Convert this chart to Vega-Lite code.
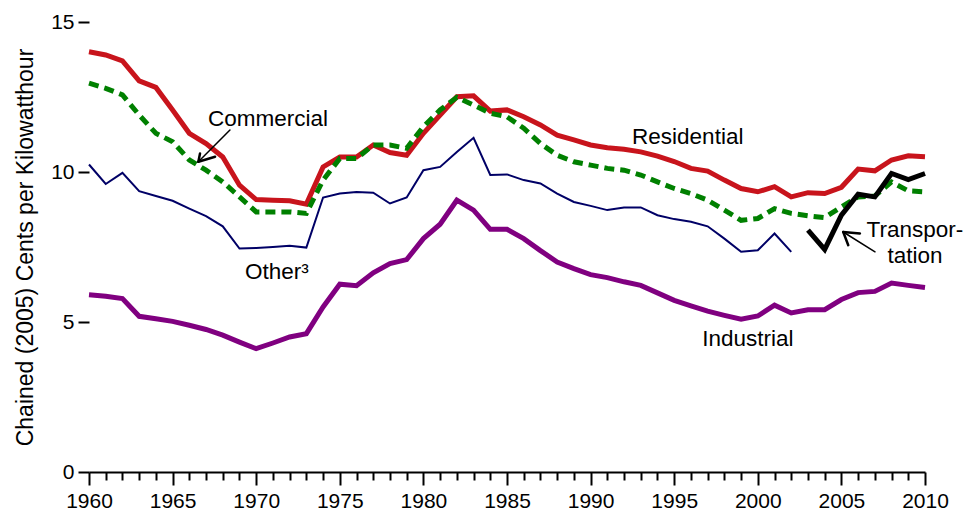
{
  "$schema": "https://vega.github.io/schema/vega-lite/v6.json",
  "width": 836,
  "height": 450,
  "autosize": {"type": "none"},
  "padding": {"left": 89, "top": 22, "right": 41, "bottom": 40},
  "background": "white",
  "config": {
    "view": {"stroke": null},
    "font": "Liberation Sans",
    "axis": {"labelFont": "Liberation Sans", "titleFont": "Liberation Sans", "labelColor": "black", "titleColor": "black", "grid": false}
  },
  "datasets": {
    "prices": [
      {"year": 1960, "Residential": 14.01, "Commercial": 12.96, "Other": 10.25, "Industrial": 5.91, "Transportation": null},
      {"year": 1961, "Residential": 13.9, "Commercial": 12.79, "Other": 9.6, "Industrial": 5.86, "Transportation": null},
      {"year": 1962, "Residential": 13.7, "Commercial": 12.57, "Other": 9.97, "Industrial": 5.78, "Transportation": null},
      {"year": 1963, "Residential": 13.04, "Commercial": 11.9, "Other": 9.36, "Industrial": 5.19, "Transportation": null},
      {"year": 1964, "Residential": 12.82, "Commercial": 11.29, "Other": 9.2, "Industrial": 5.11, "Transportation": null},
      {"year": 1965, "Residential": 12.07, "Commercial": 11.01, "Other": 9.04, "Industrial": 5.02, "Transportation": null},
      {"year": 1966, "Residential": 11.29, "Commercial": 10.4, "Other": 8.78, "Industrial": 4.89, "Transportation": null},
      {"year": 1967, "Residential": 10.95, "Commercial": 10.06, "Other": 8.53, "Industrial": 4.75, "Transportation": null},
      {"year": 1968, "Residential": 10.5, "Commercial": 9.67, "Other": 8.19, "Industrial": 4.56, "Transportation": null},
      {"year": 1969, "Residential": 9.56, "Commercial": 9.17, "Other": 7.45, "Industrial": 4.33, "Transportation": null},
      {"year": 1970, "Residential": 9.08, "Commercial": 8.67, "Other": 7.47, "Industrial": 4.11, "Transportation": null},
      {"year": 1971, "Residential": 9.06, "Commercial": 8.67, "Other": 7.5, "Industrial": 4.3, "Transportation": null},
      {"year": 1972, "Residential": 9.04, "Commercial": 8.67, "Other": 7.54, "Industrial": 4.5, "Transportation": null},
      {"year": 1973, "Residential": 8.93, "Commercial": 8.62, "Other": 7.48, "Industrial": 4.61, "Transportation": null},
      {"year": 1974, "Residential": 10.17, "Commercial": 9.73, "Other": 9.15, "Industrial": 5.5, "Transportation": null},
      {"year": 1975, "Residential": 10.5, "Commercial": 10.45, "Other": 9.28, "Industrial": 6.26, "Transportation": null},
      {"year": 1976, "Residential": 10.5, "Commercial": 10.45, "Other": 9.33, "Industrial": 6.21, "Transportation": null},
      {"year": 1977, "Residential": 10.9, "Commercial": 10.9, "Other": 9.31, "Industrial": 6.64, "Transportation": null},
      {"year": 1978, "Residential": 10.65, "Commercial": 10.9, "Other": 8.95, "Industrial": 6.95, "Transportation": null},
      {"year": 1979, "Residential": 10.56, "Commercial": 10.79, "Other": 9.15, "Industrial": 7.08, "Transportation": null},
      {"year": 1980, "Residential": 11.29, "Commercial": 11.51, "Other": 10.06, "Industrial": 7.78, "Transportation": null},
      {"year": 1981, "Residential": 11.9, "Commercial": 12.07, "Other": 10.17, "Industrial": 8.26, "Transportation": null},
      {"year": 1982, "Residential": 12.51, "Commercial": 12.49, "Other": 10.67, "Industrial": 9.06, "Transportation": null},
      {"year": 1983, "Residential": 12.54, "Commercial": 12.23, "Other": 11.14, "Industrial": 8.73, "Transportation": null},
      {"year": 1984, "Residential": 12.03, "Commercial": 11.96, "Other": 9.9, "Industrial": 8.09, "Transportation": null},
      {"year": 1985, "Residential": 12.07, "Commercial": 11.84, "Other": 9.92, "Industrial": 8.09, "Transportation": null},
      {"year": 1986, "Residential": 11.84, "Commercial": 11.46, "Other": 9.73, "Industrial": 7.78, "Transportation": null},
      {"year": 1987, "Residential": 11.57, "Commercial": 10.95, "Other": 9.62, "Industrial": 7.38, "Transportation": null},
      {"year": 1988, "Residential": 11.23, "Commercial": 10.56, "Other": 9.28, "Industrial": 7.0, "Transportation": null},
      {"year": 1989, "Residential": 11.07, "Commercial": 10.34, "Other": 9.0, "Industrial": 6.78, "Transportation": null},
      {"year": 1990, "Residential": 10.9, "Commercial": 10.23, "Other": 8.87, "Industrial": 6.58, "Transportation": null},
      {"year": 1991, "Residential": 10.81, "Commercial": 10.12, "Other": 8.73, "Industrial": 6.48, "Transportation": null},
      {"year": 1992, "Residential": 10.76, "Commercial": 10.06, "Other": 8.82, "Industrial": 6.34, "Transportation": null},
      {"year": 1993, "Residential": 10.67, "Commercial": 9.9, "Other": 8.82, "Industrial": 6.22, "Transportation": null},
      {"year": 1994, "Residential": 10.53, "Commercial": 9.67, "Other": 8.56, "Industrial": 5.97, "Transportation": null},
      {"year": 1995, "Residential": 10.35, "Commercial": 9.45, "Other": 8.43, "Industrial": 5.72, "Transportation": null},
      {"year": 1996, "Residential": 10.12, "Commercial": 9.28, "Other": 8.34, "Industrial": 5.54, "Transportation": null},
      {"year": 1997, "Residential": 10.03, "Commercial": 9.06, "Other": 8.19, "Industrial": 5.36, "Transportation": null},
      {"year": 1998, "Residential": 9.73, "Commercial": 8.73, "Other": 7.78, "Industrial": 5.22, "Transportation": null},
      {"year": 1999, "Residential": 9.45, "Commercial": 8.39, "Other": 7.34, "Industrial": 5.09, "Transportation": null},
      {"year": 2000, "Residential": 9.34, "Commercial": 8.45, "Other": 7.39, "Industrial": 5.2, "Transportation": null},
      {"year": 2001, "Residential": 9.51, "Commercial": 8.78, "Other": 7.95, "Industrial": 5.56, "Transportation": null},
      {"year": 2002, "Residential": 9.17, "Commercial": 8.62, "Other": 7.34, "Industrial": 5.3, "Transportation": null},
      {"year": 2003, "Residential": 9.31, "Commercial": 8.54, "Other": null, "Industrial": 5.41, "Transportation": 8.06},
      {"year": 2004, "Residential": 9.28, "Commercial": 8.48, "Other": null, "Industrial": 5.41, "Transportation": 7.42},
      {"year": 2005, "Residential": 9.49, "Commercial": 8.84, "Other": null, "Industrial": 5.75, "Transportation": 8.56},
      {"year": 2006, "Residential": 10.1, "Commercial": 9.17, "Other": null, "Industrial": 5.98, "Transportation": 9.26},
      {"year": 2007, "Residential": 10.04, "Commercial": 9.2, "Other": null, "Industrial": 6.02, "Transportation": 9.17},
      {"year": 2008, "Residential": 10.4, "Commercial": 9.67, "Other": null, "Industrial": 6.3, "Transportation": 9.95},
      {"year": 2009, "Residential": 10.54, "Commercial": 9.37, "Other": null, "Industrial": 6.22, "Transportation": 9.75},
      {"year": 2010, "Residential": 10.51, "Commercial": 9.34, "Other": null, "Industrial": 6.15, "Transportation": 9.95}
    ],
    "labels": [
      {"year": 1995.81, "y": 10.95, "text": "Residential"},
      {"year": 1970.71, "y": 11.54, "text": "Commercial"},
      {"year": 1971.24, "y": 6.43, "text": "Other³"},
      {"year": 1999.41, "y": 4.19, "text": "Industrial"},
      {"year": 2009.4, "y": 7.83, "text": "Transpor-"},
      {"year": 2009.4, "y": 6.96, "text": "tation"}
    ],
    "arrows": [
      {"year": 1968.43, "y": 11.4, "year2": 1966.54, "y2": 10.34, "w": 1.5},
      {"year": 1966.64, "y": 10.62, "year2": 1966.54, "y2": 10.34, "w": 2.5},
      {"year": 1967.54, "y": 10.51, "year2": 1966.54, "y2": 10.34, "w": 2.5},
      {"year": 2007.01, "y": 7.34, "year2": 2005.11, "y2": 8.0, "w": 1.5},
      {"year": 2005.41, "y": 7.56, "year2": 2005.11, "y2": 8.0, "w": 2.5},
      {"year": 2006.11, "y": 7.95, "year2": 2005.11, "y2": 8.0, "w": 2.5}
    ]
  },
  "encoding": {
    "x": {
      "field": "year", "type": "quantitative",
      "scale": {"domain": [1960, 2010], "nice": false, "zero": false},
      "axis": {
        "title": null,
        "values": [1960,1961,1962,1963,1964,1965,1966,1967,1968,1969,1970,1971,1972,1973,1974,1975,1976,1977,1978,1979,1980,1981,1982,1983,1984,1985,1986,1987,1988,1989,1990,1991,1992,1993,1994,1995,1996,1997,1998,1999,2000,2001,2002,2003,2004,2005,2006,2007,2008,2009,2010],
        "format": "d",
        "labelExpr": "datum.value % 5 === 0 ? datum.label : ''",
        "labelFontSize": 21,
        "labelPadding": 5,
        "labelOverlap": false,
        "labelFlush": false,
        "domainColor": "black",
        "domainWidth": 2,
        "tickColor": "black",
        "tickWidth": 2,
        "tickSize": {"condition": {"test": "datum.value % 5 === 0", "value": 13}, "value": 8}
      }
    }
  },
  "layer": [
    {
      "data": {"name": "prices"},
      "mark": {"type": "line", "color": "#800080", "strokeWidth": 5},
      "encoding": {
        "y": {
          "field": "Industrial", "type": "quantitative",
          "scale": {"domain": [0, 15], "nice": false},
          "axis": {
            "title": "Chained (2005) Cents per Kilowatthour",
            "titleFontSize": 23,
            "titleFontWeight": "normal",
            "titlePadding": 13,
            "values": [0, 5, 10, 15],
            "labelFontSize": 21,
            "labelPadding": 4,
            "domain": false,
            "tickColor": "black",
            "tickWidth": 2,
            "tickSize": 11
          }
        }
      }
    },
    {
      "data": {"name": "prices"},
      "mark": {"type": "line", "color": "#000066", "strokeWidth": 2},
      "encoding": {"y": {"field": "Other", "type": "quantitative"}}
    },
    {
      "data": {"name": "prices"},
      "mark": {"type": "line", "color": "#c8141c", "strokeWidth": 5},
      "encoding": {"y": {"field": "Residential", "type": "quantitative"}}
    },
    {
      "data": {"name": "prices"},
      "mark": {"type": "line", "color": "#008000", "strokeWidth": 5, "strokeDash": [10, 6]},
      "encoding": {"y": {"field": "Commercial", "type": "quantitative"}}
    },
    {
      "data": {"name": "prices"},
      "mark": {"type": "line", "color": "black", "strokeWidth": 5},
      "encoding": {"y": {"field": "Transportation", "type": "quantitative"}}
    },
    {
      "data": {"name": "arrows"},
      "mark": {"type": "rule", "color": "black", "strokeCap": "round"},
      "encoding": {
        "y": {"field": "y", "type": "quantitative"},
        "x2": {"field": "year2"},
        "y2": {"field": "y2"},
        "strokeWidth": {"field": "w", "type": "quantitative", "scale": null}
      }
    },
    {
      "data": {"name": "labels"},
      "mark": {"type": "text", "fontSize": 22.5, "font": "Liberation Sans", "align": "center", "baseline": "alphabetic", "color": "black"},
      "encoding": {
        "y": {"field": "y", "type": "quantitative"},
        "text": {"field": "text"}
      }
    }
  ]
}
